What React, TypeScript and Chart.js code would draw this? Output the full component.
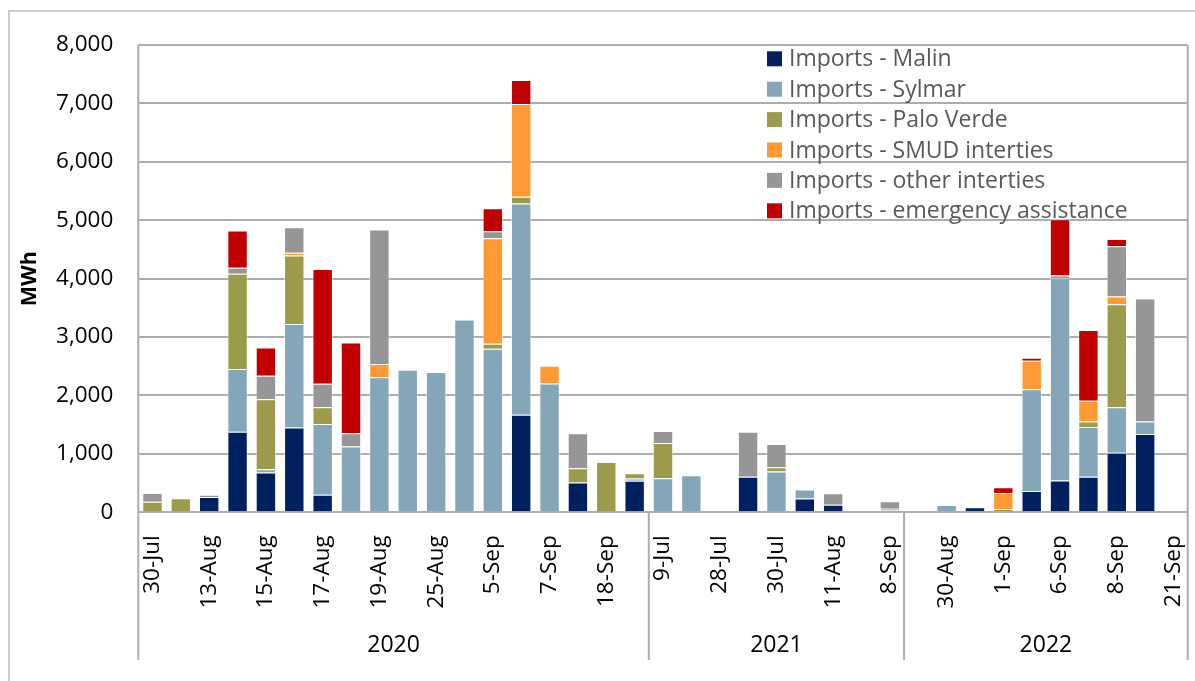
import React, { useEffect, useRef } from 'react';
import { Chart, registerables } from 'chart.js';

Chart.register(...registerables);

// ---- Data ----
const categories = [
  // 2020
  '30-Jul', '31-Jul', '13-Aug', '14-Aug', '15-Aug', '16-Aug', '17-Aug', '18-Aug', '19-Aug',
  '20-Aug', '25-Aug', '26-Aug', '5-Sep', '6-Sep', '7-Sep', '8-Sep', '18-Sep', '19-Sep',
  // 2021
  '9-Jul', '10-Jul', '28-Jul', '29-Jul', '30-Jul', '10-Aug', '11-Aug', '7-Sep', '8-Sep',
  // 2022
  '29-Aug', '30-Aug', '31-Aug', '1-Sep', '5-Sep', '6-Sep', '7-Sep', '8-Sep', '9-Sep', '21-Sep',
];

const yearLabels = ['2020', '2021', '2022'];
const yearCounts = [18, 9, 10];

const seriesNames = [
  'Imports - Malin',
  'Imports - Sylmar',
  'Imports - Palo Verde',
  'Imports - SMUD interties',
  'Imports - other interties',
  'Imports - emergency assistance',
];

const malin = [
  0, 0, 260, 1380, 680, 1450, 300, 0, 0, 0, 0, 0, 0, 1670, 0, 510, 0, 540,
  0, 0, 0, 610, 0, 235, 130, 0, 0,
  0, 0, 85, 0, 365, 545, 610, 1020, 1340, 0,
];
const sylmar = [
  0, 0, 0, 1075, 57, 1775, 1210, 1125, 2310, 2440, 2400, 3300, 2800, 3615, 2205, 0, 0, 40,
  585, 635, 0, 0, 700, 155, 0, 0, 35,
  15, 125, 0, 20, 1740, 3460, 850, 780, 215, 0,
];
const paloVerde = [
  180, 240, 0, 1630, 1200, 1170, 290, 0, 0, 0, 0, 0, 85, 115, 0, 245, 860, 90,
  600, 0, 0, 0, 70, 0, 0, 0, 25,
  0, 0, 0, 35, 0, 0, 95, 1760, 0, 0,
];
const smud = [
  0, 0, 0, 0, 0, 50, 0, 0, 230, 0, 0, 0, 1805, 1590, 305, 0, 0, 0,
  0, 0, 0, 0, 0, 0, 0, 0, 0,
  0, 0, 0, 275, 490, 0, 355, 135, 0, 0,
];
const otherInterties = [
  150, 0, 40, 100, 400, 435, 400, 230, 2300, 0, 0, 0, 120, 0, 0, 600, 0, 0,
  205, 0, 0, 770, 400, 0, 195, 15, 130,
  0, 0, 0, 0, 0, 50, 0, 860, 2105, 0,
];
const emergency = [
  0, 0, 0, 640, 485, 0, 1965, 1550, 0, 0, 0, 0, 395, 410, 0, 0, 0, 0,
  0, 0, 0, 0, 0, 0, 0, 0, 0,
  0, 0, 0, 100, 50, 960, 1210, 125, 0, 0,
];

const seriesValues = [malin, sylmar, paloVerde, smud, otherInterties, emergency];
const seriesColors = ['#002060', '#84A6B9', '#9B9B4B', '#FF9933', '#969696', '#C00000'];

const yMin = 0;
const yMax = 8000;
const yStep = 1000;
const yTitle = 'MWh';

const FONT = "'Open Sans', 'Noto Sans', sans-serif";
const LINE = '#adadad';

const decorPlugin = {
  id: 'decor',
  beforeDraw(chart: any) {
    const ctx = chart.ctx;
    ctx.save();
    ctx.fillStyle = '#ffffff';
    ctx.fillRect(0, 0, chart.width, chart.height);
    // outer frame
    ctx.strokeStyle = '#bdbdbd';
    ctx.lineWidth = 1.5;
    ctx.beginPath();
    ctx.moveTo(9, chart.height);
    ctx.lineTo(9, 11);
    ctx.lineTo(chart.width, 11);
    ctx.stroke();
    ctx.restore();
  },
  afterDraw(chart: any) {
    const ctx = chart.ctx;
    const area = chart.chartArea;
    const xs = chart.scales.x;
    const total = categories.length;
    const bottomY = 660;
    ctx.save();
    ctx.strokeStyle = LINE;
    ctx.lineWidth = 2;
    // plot left & right borders
    ctx.beginPath();
    ctx.moveTo(area.left, area.top);
    ctx.lineTo(area.left, bottomY);
    ctx.moveTo(area.right, area.top);
    ctx.lineTo(area.right, bottomY);
    ctx.stroke();

    // year groups
    ctx.fillStyle = '#000000';
    ctx.font = `23px ${FONT}`;
    ctx.textAlign = 'center';
    ctx.textBaseline = 'middle';
    let start = 0;
    yearLabels.forEach((yr, gi) => {
      const n = yearCounts[gi];
      const end = start + n - 1;
      const leftPx = start === 0 ? area.left : (xs.getPixelForValue(start - 1) + xs.getPixelForValue(start)) / 2;
      const rightPx = end === total - 1 ? area.right : (xs.getPixelForValue(end) + xs.getPixelForValue(end + 1)) / 2;
      if (start !== 0) {
        ctx.beginPath();
        ctx.moveTo(leftPx, area.bottom);
        ctx.lineTo(leftPx, bottomY);
        ctx.stroke();
      }
      ctx.fillText(yr, (leftPx + rightPx) / 2, 645);
      start += n;
    });

    // legend inside plot area
    const lx = 767;
    const ly0 = 58.8;
    const dy = 30.4;
    ctx.textAlign = 'left';
    ctx.textBaseline = 'middle';
    ctx.font = `23px ${FONT}`;
    chart.data.datasets.forEach((ds: any, i: number) => {
      const cy = ly0 + i * dy;
      ctx.fillStyle = ds.backgroundColor;
      ctx.fillRect(lx, cy - 7.5, 15, 15);
      ctx.fillStyle = '#595959';
      ctx.fillText(ds.label, lx + 22, cy + 1);
    });
    ctx.restore();
  },
};

export default function App() {
  const ref = useRef<HTMLCanvasElement | null>(null);

  useEffect(() => {
    if (!ref.current) return;
    const datasets = seriesNames.map((name, i) => ({
      label: name,
      data: seriesValues[i].map((v) => (v === 0 ? null : v)),
      backgroundColor: seriesColors[i],
      borderColor: 'rgba(255,255,255,0.55)',
      borderWidth: 1,
      barPercentage: 0.72,
      categoryPercentage: 1,
    }));

    const chart = new Chart(ref.current, {
      type: 'bar',
      data: { labels: categories, datasets },
      options: {
        responsive: false,
        animation: false,
        devicePixelRatio: 1,
        layout: { padding: { top: 45, right: 7.3, left: 0, bottom: 0 } },
        plugins: {
          legend: { display: false },
          tooltip: { enabled: false },
        },
        scales: {
          x: {
            stacked: true,
            grid: { display: false, drawTicks: false },
            border: { display: false },
            ticks: {
              autoSkip: false,
              maxRotation: 90,
              minRotation: 90,
              padding: 23,
              color: '#000000',
              font: { family: FONT, size: 22.5 },
              callback: (_v: any, i: number) => (i % 2 === 0 ? categories[i] : ''),
            },
            afterFit: (s: any) => {
              s.height = 168.7;
              s.paddingLeft = 0;
              s.paddingRight = 0;
            },
          },
          y: {
            stacked: true,
            min: yMin,
            max: yMax,
            grid: { color: LINE, lineWidth: 2, drawTicks: false },
            border: { display: false },
            ticks: {
              stepSize: yStep,
              padding: 25,
              color: '#000000',
              font: { family: FONT, size: 22.5 },
              callback: (v: any) => Number(v).toLocaleString('en-US'),
            },
            title: {
              display: true,
              text: yTitle,
              color: '#000000',
              font: { family: FONT, size: 21.5, weight: 'bold', lineHeight: 1.2 },
              padding: { top: 17, bottom: 0 },
            },
            afterFit: (s: any) => {
              s.width = 138.3;
              s.paddingTop = 0;
              s.paddingBottom = 0;
            },
          },
        },
      },
      plugins: [decorPlugin],
    });
    return () => chart.destroy();
  }, []);

  return (
    <div style={{ position: 'absolute', left: 0, top: 0, width: 1195, height: 681, background: '#fff' }}>
      <canvas ref={ref} width={1195} height={681} style={{ display: 'block', width: 1195, height: 681 }} />
    </div>
  );
}
